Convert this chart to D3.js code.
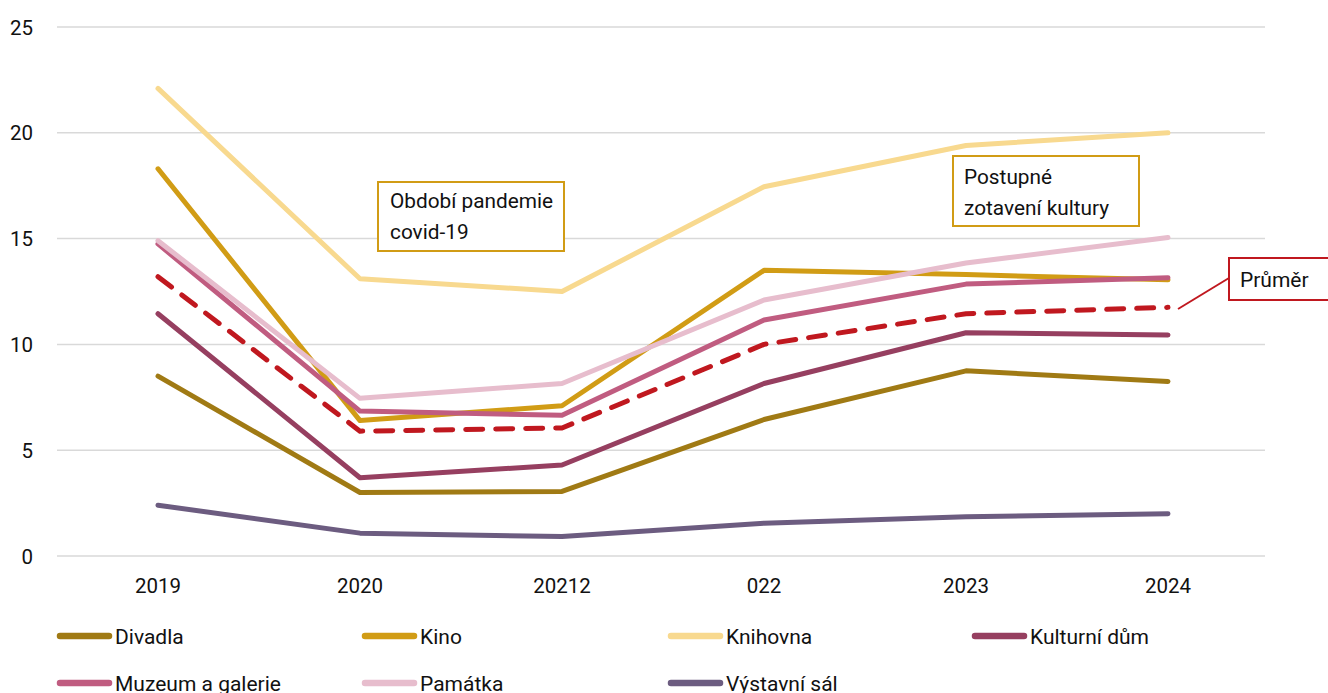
<!DOCTYPE html>
<html><head><meta charset="utf-8">
<script src="https://cdn.jsdelivr.net/npm/d3@7"></script>
<style>body{margin:0;background:#fff;} svg{display:block;font-family:Roboto,"Noto Sans",sans-serif;}</style>
</head><body><svg id="c" width="1328" height="693"></svg>
<script>
const categories = ["2019","2020","20212","022","2023","2024"];
const yTicks = [0,5,10,15,20,25];
const seriesNames = ["Divadla","Kino","Knihovna","Kulturní dům","Muzeum a galerie","Památka","Výstavní sál"];
const seriesColors = ["#a07a14","#d19c15","#f8d98f","#963f60","#c05c80","#e7bdcd","#6c5c80"];
const divadla = [8.5, 3.0, 3.05, 6.45, 8.75, 8.25];
const kino = [18.3, 6.4, 7.1, 13.5, 13.3, 13.05];
const knihovna = [22.1, 13.1, 12.5, 17.45, 19.4, 20.0];
const kulturniDum = [11.45, 3.7, 4.3, 8.15, 10.55, 10.45];
const muzeum = [14.75, 6.85, 6.65, 11.15, 12.85, 13.15];
const pamatka = [14.9, 7.45, 8.15, 12.1, 13.85, 15.05];
const vystavniSal = [2.4, 1.08, 0.92, 1.55, 1.85, 2.0];
const prumer = [13.2, 5.9, 6.05, 10.0, 11.45, 11.75];
const prumerLabel = "Průměr";
const annotations = [["Období pandemie","covid-19"],["Postupné","zotavení kultury"]];

const seriesValues = [divadla,kino,knihovna,kulturniDum,muzeum,pamatka,vystavniSal];
const svg = d3.select("#c");
const x = d3.scaleBand().domain(categories).range([57,1269]);
const xc = d => x(d) + x.bandwidth()/2;
const y = d3.scaleLinear().domain([0,25]).range([556,27]);

// grid
svg.append("g").selectAll("line").data(yTicks).join("line")
  .attr("x1",57).attr("x2",1265).attr("y1",d=>y(d)).attr("y2",d=>y(d))
  .attr("stroke","#d9d9d9").attr("stroke-width",1.5);
// y labels
svg.append("g").selectAll("text").data(yTicks).join("text")
  .attr("x",33).attr("y",d=>y(d)+7.5)
  .attr("text-anchor","end").attr("font-size",20.5).attr("fill","#111").text(d=>d);
// x labels
svg.append("g").selectAll("text").data(categories).join("text")
  .attr("x",d=>xc(d)).attr("y",593)
  .attr("text-anchor","middle").attr("font-size",20.5).attr("fill","#111").text(d=>d);

const line = d3.line().x((d,i)=>xc(categories[i])).y(d=>y(d));
seriesValues.forEach((vals,k)=>{
  svg.append("path").attr("d",line(vals)).attr("fill","none")
    .attr("stroke",seriesColors[k]).attr("stroke-width",5)
    .attr("stroke-linejoin","round").attr("stroke-linecap","round");
});
svg.append("path").attr("d",line(prumer)).attr("fill","none")
  .attr("stroke","#c0181f").attr("stroke-width",5)
  .attr("stroke-dasharray","17,13").attr("stroke-linecap","round").attr("stroke-linejoin","round");

// annotations
const gold = "#d19c15";
function box(x0,y0,w,h,color,lines,tx,ty,lh){
  svg.append("rect").attr("x",x0).attr("y",y0).attr("width",w).attr("height",h)
    .attr("fill","#fff").attr("stroke",color).attr("stroke-width",2);
  lines.forEach((t,i)=>svg.append("text").attr("x",tx).attr("y",ty+i*lh)
    .attr("font-size",20.8).attr("fill","#111").text(t));
}
box(378,182,186,69,gold,annotations[0],390,208,31);
box(953,156,186,70,gold,annotations[1],964,184,31);
// Průměr callout
svg.append("line").attr("x1",1178).attr("y1",309).attr("x2",1229).attr("y2",278)
  .attr("stroke","#c0181f").attr("stroke-width",2);
svg.append("rect").attr("x",1229).attr("y",258).attr("width",110).attr("height",42)
  .attr("fill","#fff").attr("stroke","#c0181f").attr("stroke-width",2);
svg.append("text").attr("x",1240).attr("y",287).attr("font-size",21).attr("fill","#111").text(prumerLabel);

// legend
const legX = [57,362,668,972];
const legend = svg.append("g");
seriesNames.forEach((n,i)=>{
  const col = i%4, row = Math.floor(i/4);
  const lx = legX[col], ly = 636 + row*47;
  legend.append("line").attr("x1",lx+3).attr("x2",lx+52).attr("y1",ly).attr("y2",ly)
    .attr("stroke",seriesColors[i]).attr("stroke-width",6.5).attr("stroke-linecap","round");
  legend.append("text").attr("x",lx+58).attr("y",ly+7.5)
    .attr("font-size",21).attr("fill","#111").text(n);
});
</script></body></html>
